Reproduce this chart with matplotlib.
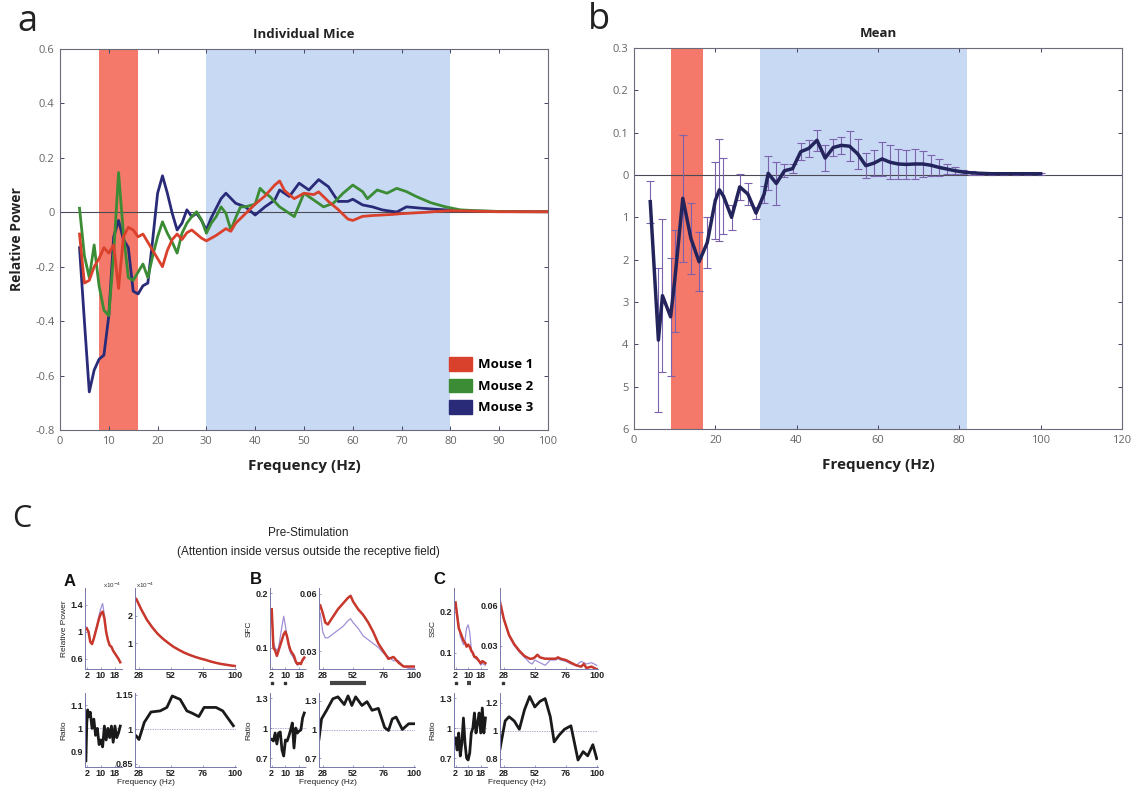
import matplotlib
matplotlib.use('Agg')
import matplotlib.pyplot as plt
from matplotlib.patches import Patch
from matplotlib.transforms import blended_transform_factory
import numpy as np

plt.rcParams['font.family'] = ['Open Sans', 'DejaVu Sans']

# ---------------- Panel a : individual mice ----------------
f_mouse1 = [4,5,6,7,8,9,10,11,12,13,14,15,16,17,18,19,20,21,22,23,24,25,26,27,28,29,30,
            32,34,35,36,38,40,42,44,45,46,48,50,52,53,55,57,59,60,62,64,66,68,70,72,75,78,80,85,90,95,100]
mouse1 = [-0.08,-0.26,-0.25,-0.20,-0.17,-0.13,-0.15,-0.12,-0.28,-0.09,-0.055,-0.065,-0.09,-0.08,-0.11,
          -0.14,-0.17,-0.20,-0.14,-0.10,-0.08,-0.10,-0.075,-0.065,-0.08,-0.095,-0.105,
          -0.085,-0.06,-0.07,-0.04,-0.005,0.03,0.06,0.10,0.115,0.08,0.05,0.07,0.065,0.075,0.04,0.01,
          -0.025,-0.03,-0.015,-0.012,-0.01,-0.008,-0.005,-0.003,0.0,0.004,0.006,0.004,0.002,0.002,0.002]

f_mouse2 = [4,5,6,7,8,9,10,11,12,13,14,15,16,17,18,19,20,21,22,23,24,25,26,27,28,29,30,31,32,33,34,35,36,37,38,
            40,41,42,43,45,47,48,50,52,54,56,58,60,62,63,65,66,67,69,71,73,76,79,82,85,90,95,100]
mouse2 = [0.015,-0.16,-0.24,-0.12,-0.27,-0.36,-0.38,-0.15,0.146,-0.08,-0.24,-0.25,-0.22,-0.19,-0.24,
          -0.16,-0.09,-0.035,-0.077,-0.11,-0.15,-0.077,-0.04,-0.016,0.002,-0.028,-0.077,-0.04,-0.016,
          0.02,-0.004,-0.065,-0.02,0.02,0.02,
          0.03,0.088,0.07,0.058,0.02,-0.004,-0.016,0.07,0.045,0.02,0.033,0.07,0.10,0.076,0.05,0.082,
          0.076,0.07,0.088,0.076,0.058,0.035,0.02,0.009,0.006,0.003,0.002,0.002]

f_mouse3 = [4,5,6,7,8,9,10,11,12,13,14,15,16,17,18,19,20,21,22,23,24,25,26,27,28,29,30,31,32,33,34,
            36,38,40,42,44,45,47,49,51,53,55,57,59,60,62,64,66,67,69,71,74,77,80,83,90,100]
mouse3 = [-0.13,-0.40,-0.66,-0.58,-0.54,-0.525,-0.38,-0.09,-0.03,-0.10,-0.13,-0.29,-0.30,-0.27,-0.26,
          -0.10,0.07,0.134,0.07,-0.004,-0.065,-0.04,0.009,-0.016,-0.004,-0.03,-0.065,-0.02,0.015,0.05,0.07,
          0.033,0.02,-0.01,0.02,0.045,0.082,0.058,0.107,0.082,0.12,0.094,0.04,0.04,0.048,0.027,0.02,
          0.009,0.006,0.001,0.02,0.015,0.011,0.008,0.005,0.003,0.002]

mouse_labels = ['Mouse 1', 'Mouse 2', 'Mouse 3']
a_yticklabels = ['-0.8', '-0.6', '-0.4', '-0.2', '0', '0.2', '0.4', '0.6']

# ---------------- Panel b : mean with error bars ----------------
f_mean = [4,6,7,9,10,12,14,16,18,20,21,22,24,26,28,30,32,33,35,37,39,41,43,45,47,49,51,53,55,57,
          59,61,63,65,67,69,71,73,75,77,79,81,83,85,88,91,94,97,100]
mean_power = [-0.063,-0.39,-0.285,-0.335,-0.25,-0.055,-0.15,-0.205,-0.16,-0.06,
              -0.035,-0.05,-0.10,-0.028,-0.045,-0.09,-0.045,0.004,-0.02,0.01,
              0.015,0.055,0.063,0.082,0.04,0.065,0.07,0.068,0.05,0.022,
              0.028,0.038,0.03,0.026,0.025,0.026,0.026,0.023,0.018,0.014,
              0.010,0.007,0.005,0.004,0.003,0.003,0.003,0.003,0.003]
mean_err = [0.05,0.17,0.18,0.14,0.12,0.15,0.085,0.07,0.06,0.09,
            0.12,0.09,0.03,0.03,0.025,0.015,0.02,0.04,0.05,0.015,
            0.01,0.02,0.02,0.025,0.03,0.02,0.02,0.035,0.035,0.03,
            0.03,0.04,0.04,0.035,0.035,0.035,0.03,0.025,0.02,0.012,
            0.008,0.005,0.004,0.003,0.002,0.002,0.002,0.002,0.002]
b_yticks = [0.3, 0.2, 0.1, 0.0, -0.1, -0.2, -0.3, -0.4, -0.5, -0.6]
b_yticklabels = ['0.3', '0.2', '0.1', '0', '1', '2', '3', '4', '5', '6']

# ---------------- Panel c : inset figure ----------------
f_low = [2,3,4,5,6,7,8,9,10,11,12,13,14,15,16,17,18,19,20,21]

A_pow_red = [1.05,1.0,0.85,0.82,0.9,1.0,1.1,1.2,1.27,1.3,1.2,1.0,0.88,0.8,0.78,0.72,0.68,0.64,0.6,0.55]
A_pow_pur = [1.07,1.0,0.86,0.83,0.91,1.02,1.12,1.25,1.35,1.42,1.25,1.02,0.88,0.8,0.77,0.72,0.68,0.64,0.6,0.55]
f_A_big = [26,30,34,38,42,46,50,54,58,62,66,70,74,78,82,86,90,94,98,100]
A_big_red = [2.6,2.2,1.85,1.58,1.35,1.17,1.02,0.88,0.77,0.67,0.59,0.52,0.46,0.41,0.35,0.3,0.26,0.23,0.2,0.19]
A_big_pur = [2.62,2.21,1.86,1.58,1.35,1.17,1.02,0.88,0.77,0.67,0.59,0.52,0.46,0.41,0.35,0.3,0.26,0.23,0.2,0.19]
f_A_ratio = [1.5,2,2.5,3,4,5,6,7,8,9,10,11,12,13,14,15,16,17,18,19,20,21]
A_ratio_small = [0.86,1.02,1.08,1.05,1.07,1.0,1.04,0.97,1.0,0.93,0.95,0.92,1.01,0.95,1.0,0.96,1.01,0.94,1.01,0.96,0.98,1.01]
f_A_ratio_big = [26,28,32,37,44,49,53,59,64,68,73,77,86,91,99]
A_ratio_big = [0.97,0.955,1.03,1.075,1.08,1.095,1.145,1.13,1.08,1.07,1.055,1.095,1.095,1.08,1.015]

B_sfc_red = [0.171,0.10,0.095,0.085,0.095,0.105,0.115,0.125,0.13,0.12,0.105,0.095,0.09,0.085,0.075,0.07,0.072,0.07,0.078,0.082]
B_sfc_pur = [0.165,0.11,0.10,0.095,0.10,0.12,0.14,0.158,0.14,0.12,0.10,0.09,0.085,0.08,0.072,0.068,0.07,0.072,0.075,0.08]
f_B_big = [26,28,30,32,36,40,44,48,50,52,56,60,64,68,72,76,80,84,88,92,96,100]
B_big_red = [0.054,0.050,0.045,0.044,0.048,0.052,0.055,0.058,0.059,0.056,0.052,0.049,0.045,0.04,0.034,0.03,0.026,0.027,0.024,0.022,0.022,0.022]
B_big_pur = [0.050,0.040,0.037,0.037,0.039,0.041,0.043,0.046,0.047,0.045,0.042,0.038,0.036,0.034,0.032,0.029,0.027,0.025,0.025,0.022,0.021,0.021]
B_ratio_small = [0.885,0.87,0.95,0.84,0.95,0.96,0.78,0.72,0.88,0.87,0.92,0.98,1.05,0.8,1.0,0.95,0.97,0.98,1.1,1.15]
f_B_ratio_big = [25,27,31,36,40,45,48,51,54,59,63,67,72,77,80,83,86,91,96,100]
B_ratio_big = [0.9,1.11,1.2,1.32,1.34,1.26,1.35,1.25,1.34,1.25,1.29,1.2,1.22,1.02,0.99,1.11,1.13,1.0,1.06,1.06]

C_ssc_red = [0.222,0.19,0.16,0.15,0.14,0.13,0.125,0.115,0.12,0.115,0.105,0.10,0.09,0.09,0.085,0.08,0.075,0.08,0.078,0.075]
C_ssc_pur = [0.22,0.20,0.17,0.14,0.13,0.12,0.13,0.16,0.168,0.15,0.11,0.095,0.09,0.085,0.085,0.08,0.07,0.075,0.072,0.07]
f_C_big = [25,28,32,36,40,44,48,50,52,54,56,60,64,68,70,72,76,80,84,88,90,92,96,100]
C_big_red = [0.063,0.05,0.038,0.031,0.026,0.022,0.02,0.02,0.021,0.023,0.021,0.02,0.02,0.02,0.021,0.02,0.019,0.017,0.015,0.014,0.016,0.013,0.014,0.012]
C_big_pur = [0.062,0.049,0.037,0.030,0.025,0.021,0.017,0.016,0.019,0.018,0.017,0.015,0.019,0.019,0.02,0.019,0.018,0.016,0.015,0.018,0.017,0.016,0.017,0.015]
C_ratio_small = [0.9,0.78,0.95,0.72,0.85,1.1,0.85,0.7,0.68,0.75,0.95,1.0,1.15,0.95,1.05,1.15,0.95,1.2,0.95,1.1]
f_C_ratio_big = [25,29,32,36,40,44,48,52,56,60,64,67,71,75,80,85.5,89.5,93,97,100]
C_ratio_big = [0.87,1.07,1.1,1.07,1.01,1.15,1.245,1.17,1.21,1.23,1.1,0.92,0.97,1.01,1.035,0.79,0.85,0.82,0.9,0.8]

# significance markers (frequency intervals)
sig_B_small = [(2, 2), (10, 10)]
sig_B_big = [(34, 62)]
sig_C_small = [(2, 2), (9.5, 12)]
sig_C_big = [(27, 27)]

# ---------------- styles ----------------
RED = '#d9412c'
GREEN = '#3b8c34'
BLUE = '#2a2b78'
NAVY = '#24245c'
ERR = '#7d62ad'
RED_BAND = '#f4796a'
BLUE_BAND = '#c8d9f4'
C_RED = '#c8372b'
C_PUR = '#a08fd6'

W, H = 1134, 788
fig = plt.figure(figsize=(W / 100, H / 100), dpi=100)


def ax_px(x0, y0, x1, y1):
    return fig.add_axes([x0 / W, 1 - y1 / H, (x1 - x0) / W, (y1 - y0) / H])


def matlab_style(ax):
    for s in ax.spines.values():
        s.set_color('#6a6a7a')
        s.set_linewidth(0.8)
    ax.tick_params(direction='in', top=True, right=True, length=3, width=0.7,
                   color='#444466', labelsize=8, labelcolor='#666666', pad=4)


# ---- panel a ----
axa = ax_px(60, 49, 548, 430)
axa.axvspan(8, 16, color=RED_BAND, lw=0, zorder=0)
axa.axvspan(30, 80, color=BLUE_BAND, lw=0, zorder=0)
axa.axhline(0, color='#4a4a55', lw=0.8, zorder=1)
mouse_series = [(f_mouse1, mouse1, RED), (f_mouse2, mouse2, GREEN), (f_mouse3, mouse3, BLUE)]
for fx, vy, col in reversed(mouse_series):
    axa.plot(fx, vy, color=col, lw=2.0, zorder=3)
axa.set_xlim(0, 100)
axa.set_ylim(-0.8, 0.6)
axa.set_xticks(np.arange(0, 101, 10))
axa.set_yticks([-0.8, -0.6, -0.4, -0.2, 0, 0.2, 0.4, 0.6])
axa.set_yticklabels(a_yticklabels)
matlab_style(axa)
axa.set_title('Individual Mice', fontsize=9.5, fontweight='bold', pad=8, color='#222222')
axa.set_xlabel('Frequency (Hz)', fontsize=11, fontweight='bold', labelpad=9, color='#222222')
axa.set_ylabel('Relative Power', fontsize=10, fontweight='bold', labelpad=8, color='#222222')
handles = [Patch(facecolor=c, edgecolor=c) for _, _, c in mouse_series]
axa.legend(handles, mouse_labels, loc='lower right', bbox_to_anchor=(0.995, 0.01), frameon=False,
           prop={'size': 9.5, 'weight': 'bold'}, handlelength=1.7, handleheight=1.2,
           labelspacing=0.55, handletextpad=0.5)

# ---- panel b ----
axb = ax_px(634, 48, 1122, 429)
axb.axvspan(9, 17, color=RED_BAND, lw=0, zorder=0)
axb.axvspan(31, 82, color=BLUE_BAND, lw=0, zorder=0)
axb.axhline(0, color='#4a4a55', lw=0.8, zorder=1)
axb.errorbar(f_mean, mean_power, yerr=mean_err, color=NAVY, lw=2.5, ecolor=ERR,
             elinewidth=0.8, capsize=3, capthick=0.8, zorder=3)
axb.set_xlim(0, 120)
axb.set_ylim(-0.6, 0.3)
axb.set_xticks(np.arange(0, 121, 20))
axb.set_yticks(b_yticks)
axb.set_yticklabels(b_yticklabels)
matlab_style(axb)
axb.set_title('Mean', fontsize=9.5, fontweight='bold', pad=8, color='#222222')
axb.set_xlabel('Frequency (Hz)', fontsize=11, fontweight='bold', labelpad=9, color='#222222')

fig.text(17 / W, 1 - 22 / H, 'a', fontsize=26, va='center', ha='left', color='#222222')
fig.text(588 / W, 1 - 20 / H, 'b', fontsize=26, va='center', ha='left', color='#222222')
fig.text(12 / W, 1 - 519 / H, 'C', fontsize=22, va='center', ha='left', color='#222222')

# ---- panel c ----
CF = ['Liberation Sans', 'DejaVu Sans']
fig.text(308 / W, 1 - 533 / H, 'Pre-Stimulation', ha='center', va='center', fontsize=8.5,
         family=CF, color='#222222')
fig.text(308 / W, 1 - 552 / H, '(Attention inside versus outside the receptive field)', ha='center',
         va='center', fontsize=8.5, family=CF, color='#222222')
for lx, ly, letter in [(64, 582, 'A'), (250, 580, 'B'), (433, 580, 'C')]:
    fig.text(lx / W, 1 - ly / H, letter, ha='left', va='center', fontsize=12, fontweight='bold',
             family=CF, color='#111111')

ROWS = [(588, 669), (693, 767)]


def cax(x0, x1, row, xlim, xticks, ylim, yticks, yticklabels=None, ylabel=None):
    y0, y1 = ROWS[row]
    ax = ax_px(x0, y0, x1, y1)
    for s in ['top', 'right']:
        ax.spines[s].set_visible(False)
    for s in ['left', 'bottom']:
        ax.spines[s].set_color('#7777aa')
        ax.spines[s].set_linewidth(0.7)
        ax.spines[s].set_linestyle((0, (1.5, 1)))
    ax.set_xlim(*xlim)
    ax.set_ylim(*ylim)
    ax.set_xticks(xticks)
    ax.set_yticks(yticks)
    if yticklabels is not None:
        ax.set_yticklabels(yticklabels)
    ax.tick_params(direction='in', length=1.5, width=0.5, labelsize=6.5, pad=1.5,
                   labelcolor='#222222', color='#7777aa')
    for lab in ax.get_xticklabels() + ax.get_yticklabels():
        lab.set_family(CF)
        lab.set_fontweight('bold')
    if ylabel:
        ax.set_ylabel(ylabel, fontsize=6, family=CF, labelpad=2, color='#222222')
    ax.patch.set_alpha(0)
    return ax


small_xt = [2, 10, 18]
big_xt = [28, 52, 76, 100]
small_xl = (1, 22)
big_xl = (25, 101)


def ratio_line(ax):
    ax.axhline(1, color='#8a8ac0', lw=0.5, ls=(0, (2, 1.5)), zorder=1)


def sig(ax, intervals):
    tr = blended_transform_factory(ax.transData, ax.transAxes)
    for a, b in intervals:
        if a == b:
            ax.plot([a], [-0.175], marker='s', ms=2, color='#333333', transform=tr, clip_on=False)
        else:
            ax.plot([a, b], [-0.175, -0.175], color='#444444', lw=3, transform=tr, clip_on=False,
                    solid_capstyle='butt')


# A
ax = cax(85, 122, 0, small_xl, small_xt, (0.45, 1.65), [0.6, 1, 1.4], ['0.6', '1', '1.4'], 'Relative Power')
ax.plot(f_low, A_pow_pur, color=C_PUR, lw=0.9)
ax.plot(f_low, A_pow_red, color=C_RED, lw=1.8)
ax = cax(135, 236, 0, big_xl, big_xt, (0.08, 3.0), [1, 2], ['1', '2'])
ax.plot(f_A_big, A_big_pur, color=C_PUR, lw=0.9)
ax.plot(f_A_big, A_big_red, color=C_RED, lw=1.8)
fig.text(103 / W, 1 - 585 / H, 'x10$^{-4}$', fontsize=4.5, family=CF, color='#333333', va='center')
fig.text(136 / W, 1 - 585 / H, 'x10$^{-4}$', fontsize=4.5, family=CF, color='#333333', va='center')
ax = cax(85, 122, 1, small_xl, small_xt, (0.833, 1.153), [0.9, 1, 1.1], ['0.9', '1', '1.1'], 'Ratio')
ratio_line(ax)
ax.plot(f_A_ratio, A_ratio_small, color='#1a1a1a', lw=2)
ax = cax(135, 236, 1, big_xl, big_xt, (0.835, 1.158), [0.85, 1, 1.15], ['0.85', '1', '1.15'])
ratio_line(ax)
ax.plot(f_A_ratio_big, A_ratio_big, color='#1a1a1a', lw=2)

# B
ax = cax(270, 306, 0, small_xl, small_xt, (0.061, 0.21), [0.1, 0.2], ['0.1', '0.2'], 'SFC')
ax.plot(f_low, B_sfc_pur, color=C_PUR, lw=0.9)
ax.plot(f_low, B_sfc_red, color=C_RED, lw=1.8)
sig(ax, sig_B_small)
ax = cax(319, 415, 0, big_xl, big_xt, (0.0207, 0.0631), [0.03, 0.06], ['0.03', '0.06'])
ax.plot(f_B_big, B_big_pur, color=C_PUR, lw=0.9)
ax.plot(f_B_big, B_big_red, color=C_RED, lw=1.8)
sig(ax, sig_B_big)
ax = cax(270, 306, 1, small_xl, small_xt, (0.61, 1.35), [0.7, 1, 1.3], ['0.7', '1', '1.3'], 'Ratio')
ratio_line(ax)
ax.plot(f_low, B_ratio_small, color='#1a1a1a', lw=2)
ax = cax(319, 415, 1, big_xl, big_xt, (0.61, 1.38), [0.7, 1, 1.3], ['0.7', '1', '1.3'])
ratio_line(ax)
ax.plot(f_B_ratio_big, B_ratio_big, color='#1a1a1a', lw=2)

# C
ax = cax(454, 487, 0, small_xl, small_xt, (0.061, 0.257), [0.1, 0.2], ['0.1', '0.2'], 'SSC')
ax.plot(f_low, C_ssc_pur, color=C_PUR, lw=0.9)
ax.plot(f_low, C_ssc_red, color=C_RED, lw=1.8)
sig(ax, sig_C_small)
ax = cax(500, 598, 0, big_xl, big_xt, (0.0122, 0.0736), [0.03, 0.06], ['0.03', '0.06'])
ax.plot(f_C_big, C_big_pur, color=C_PUR, lw=0.9)
ax.plot(f_C_big, C_big_red, color=C_RED, lw=1.8)
sig(ax, sig_C_big)
ax = cax(454, 487, 1, small_xl, small_xt, (0.61, 1.35), [0.7, 1, 1.3], ['0.7', '1', '1.3'], 'Ratio')
ratio_line(ax)
ax.plot(f_low, C_ratio_small, color='#1a1a1a', lw=2)
ax = cax(500, 598, 1, big_xl, big_xt, (0.74, 1.27), [0.8, 1, 1.2], ['0.8', '1', '1.2'])
ratio_line(ax)
ax.plot(f_C_ratio_big, C_ratio_big, color='#1a1a1a', lw=2)

for cx in [146, 328, 517]:
    fig.text(cx / W, 1 - 782 / H, 'Frequency (Hz)', ha='center', va='center', fontsize=6,
             family=CF, color='#222222')

fig.savefig('out.png', dpi=100)
